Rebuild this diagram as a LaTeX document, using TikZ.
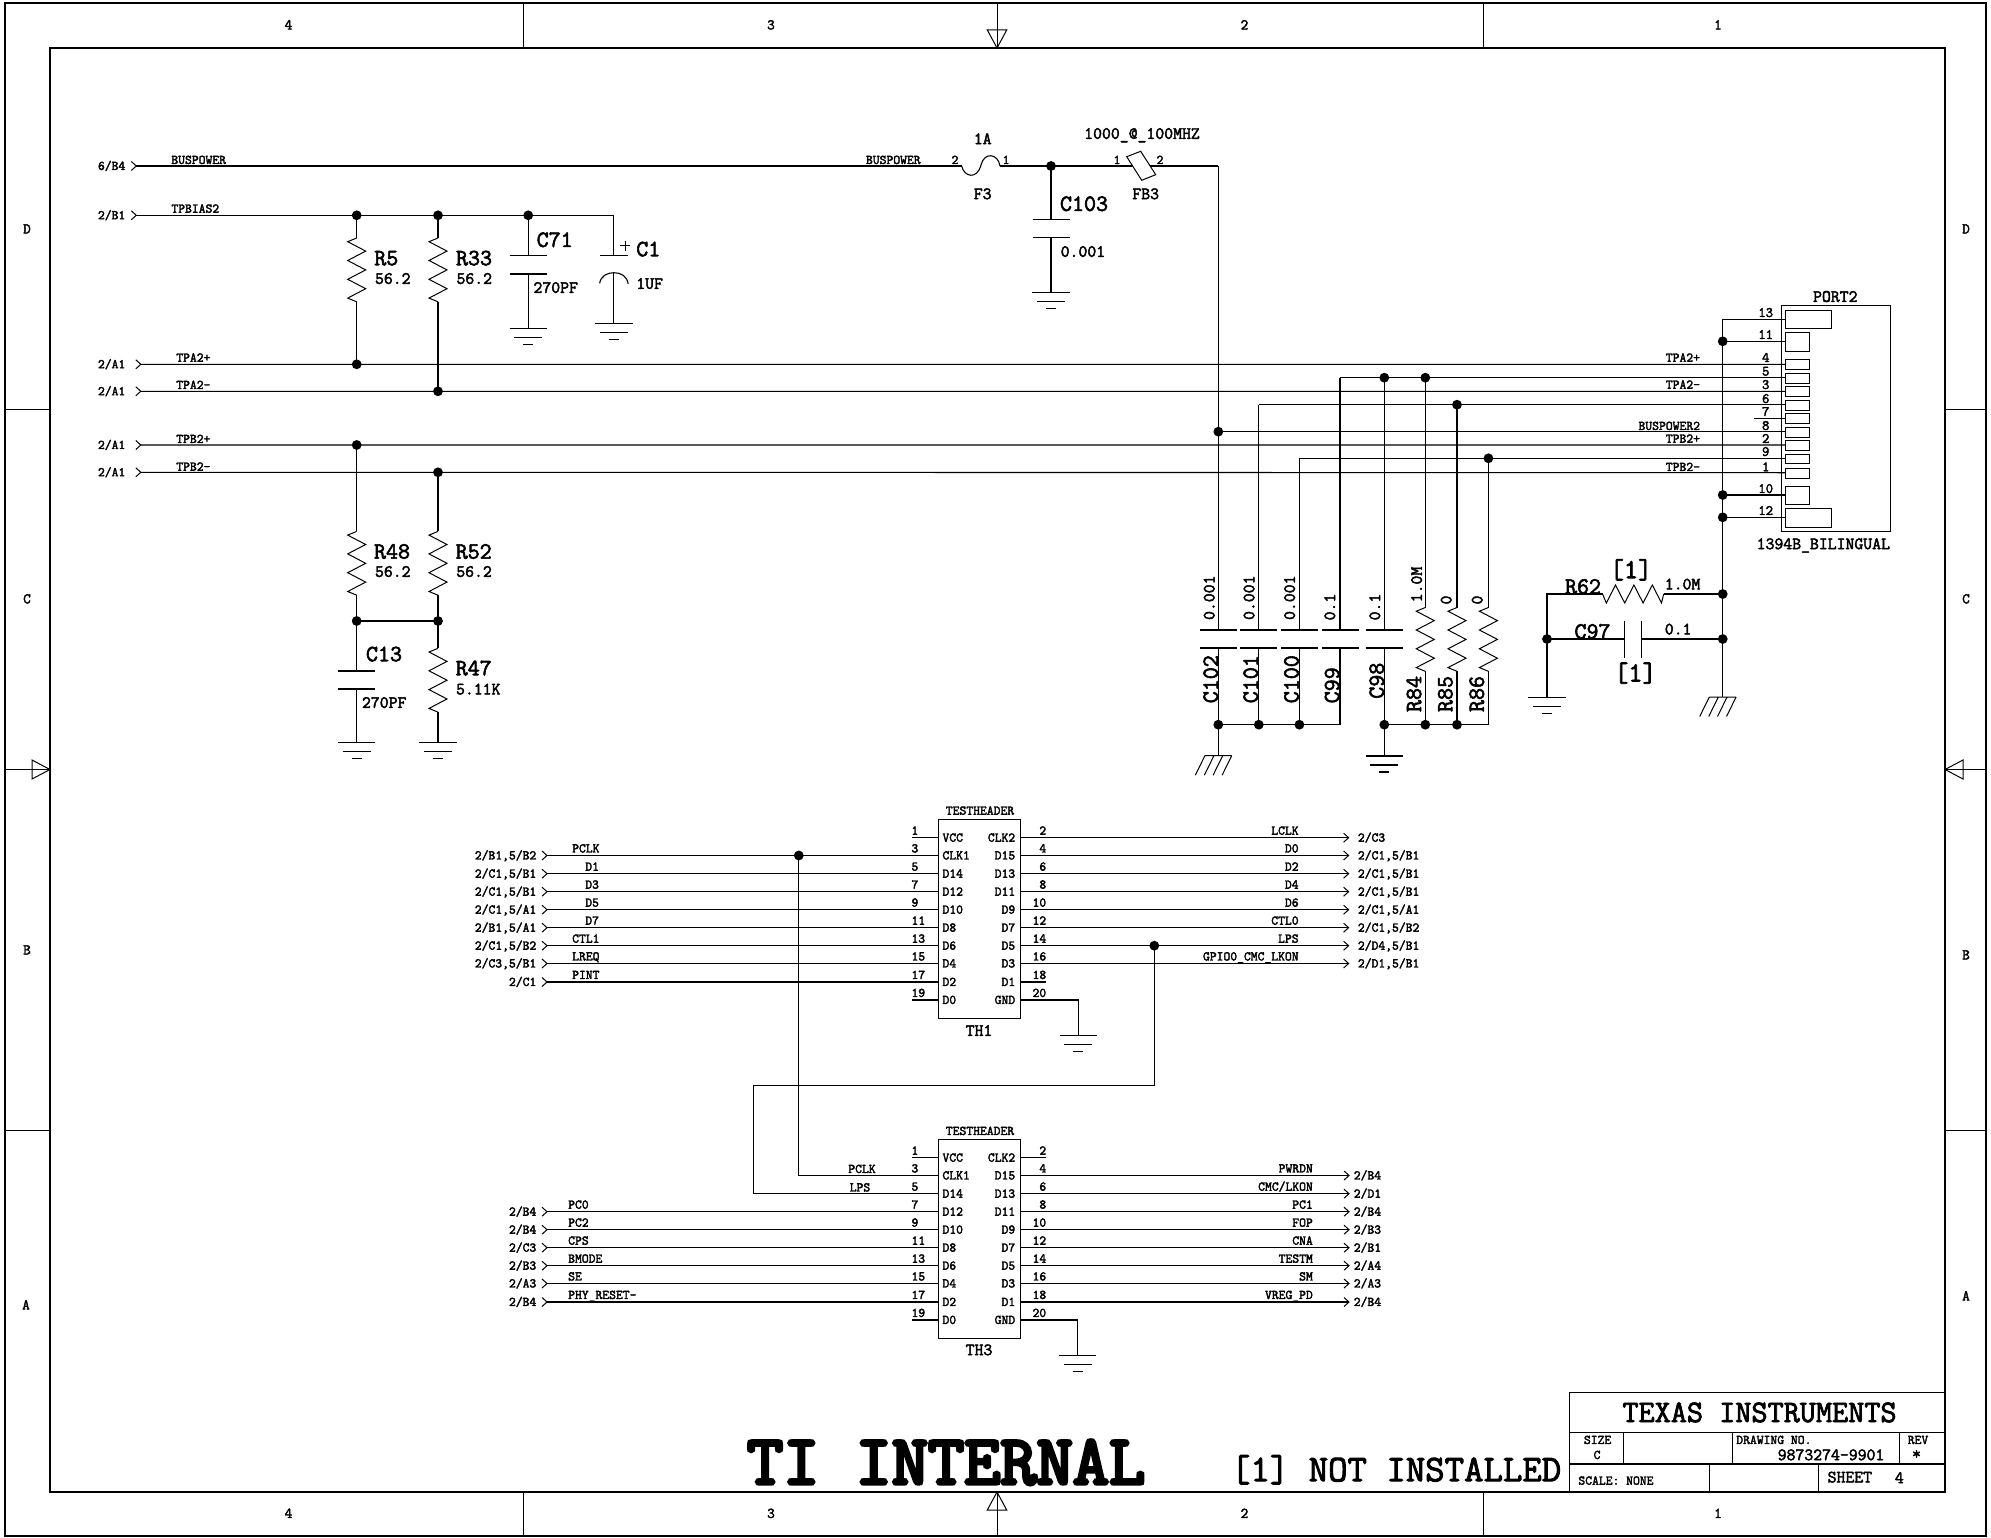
\documentclass[tikz,border=0pt]{standalone}
\usepackage{fontspec}
\newfontfamily\monof[FakeBold=2.5]{Latin Modern Mono}
\newfontfamily\monofb[FakeBold=5]{Latin Modern Mono}
\tikzset{
  wire/.style={draw=black,line width=1.1pt,line join=miter},
  thin wire/.style={draw=black,line width=1pt},
  fsz/.style={font=\monof\fontsize{\the\dimexpr #1pt*1143/1000\relax}{#1}\selectfont,inner sep=0pt,outer sep=0pt,
     text height=\dimexpr #1pt*68/100\relax,text depth=0pt},
  fszb/.style={fsz=#1,font=\monofb\fontsize{\the\dimexpr #1pt*1143/1000\relax}{#1}\selectfont},
  ts/.style={fsz=11.6},
  tm/.style={fsz=15.1},
  tl/.style={fsz=20.4},
}
\newcounter{tc}
% text: [options]{x}{y}{text}
\newcommand\Tx[4][]{\stepcounter{tc}\node[#1] (txt\arabic{tc}) at (#2,#3) {#4};}
\newcommand\Jn[3]{\coordinate (#1) at (#2,#3);\fill[black] (#1) circle (4.9);}
\newcommand\Gnd[1]{\draw[wire] (#1) ++(-18.6,0) -- ++(37.2,0) (#1) ++(-14,9) -- ++(28,0) (#1) ++(-5,16) -- ++(10,0);}
\newcommand\Hash[1]{\draw[thin wire] (#1) ++(-13.4,0) -- ++(26.8,0)
  (#1) ++(-13.4,0) -- ++(-9.6,19.5) (#1) ++(-4.4,0) -- ++(-9.6,19.5)
  (#1) ++(4.4,0) -- ++(-9.6,19.5) (#1) ++(13.4,0) -- ++(-9.6,19.5);}
\newcommand\VZig[1]{\draw[thin wire,line join=miter] (#1) -- ++(-9,3.7) -- ++(18,9.4) -- ++(-18,9.4) -- ++(18,9.4) -- ++(-18,9.4) -- ++(18,9.4) -- ++(-18,9.4) -- ++(9,3.7);}
\newcommand\VPlates[3]{\draw[wire] (#1,#2) ++(-18.5,0) -- ++(37,0) (#1,#3) ++(-18.5,0) -- ++(37,0);}
\newcommand\Chev[1]{\draw[thin wire] (#1) ++(-5,-4.5) -- (#1) -- ++(-5,4.5);}
% header pins
\newcommand\HL[4]{\coordinate (#1l#3) at (938.4,#2);\coordinate (#1ls#3) at (911.5,#2);
  \draw[wire] (#1l#3) -- (#1ls#3);
  \Tx[ts,anchor=west]{911.5}{#2-7}{#3}\Tx[ts,anchor=west]{942.5}{#2}{#4}}
\newcommand\HR[4]{\coordinate (#1r#3) at (1020.5,#2);\coordinate (#1rs#3) at (1046.2,#2);
  \draw[wire] (#1r#3) -- (#1rs#3);
  \Tx[ts,anchor=east]{1046.2}{#2-7}{#3}\Tx[ts,anchor=east]{1015.2}{#2}{#4}}
% input net: pin coordinate, y, refdes, net x, net
\newcommand\NL[5]{\coordinate (tip#1) at (547,#2);\Chev{tip#1}\draw[wire] (tip#1) -- (#1);
  \Tx[ts,anchor=east]{536.3}{#2}{#3}\Tx[ts,anchor=west]{#4}{#2-7}{#5}}
% output net: pin coordinate, y, tip x, net right end, ref x, net, ref
\newcommand\NR[7]{\coordinate (tip#1) at (#3,#2);\Chev{tip#1}\draw[wire] (#1) -- (tip#1);
  \Tx[ts,anchor=east]{#4}{#2-7}{#6}\Tx[ts,anchor=west]{#5}{#2}{#7}}
% port pin: num, ytop, ybot, ywire, ytext, xright
\newcommand\PP[6]{\draw[thin wire] (1785.7,#2) rectangle (#6,#3);\coordinate (p#1) at (1785.7,#4);
  \Tx[ts,fsz=12.5]{1765.7}{#5}{#1}}
\begin{document}
\begin{tikzpicture}[x=1pt,y=-1pt]
\useasboundingbox (0,0) rectangle (1991,1538);
\fill[white] (0,0) rectangle (1991,1538);
% ---------- sheet frame
\draw[wire] (5,3) rectangle (1986,1536);
\draw[wire] (50,48) rectangle (1945,1492);
\draw[thin wire] (523,3)--(523,48) (1483.5,3)--(1483.5,48) (997,3)--(997,48)
  (523,1492)--(523,1536) (1483.5,1492)--(1483.5,1536) (997,1492)--(997,1536)
  (5,409)--(50,409) (5,1130)--(50,1130) (5,769.5)--(50,769.5)
  (1945,409)--(1986,409) (1945,1130)--(1986,1130) (1945,769.5)--(1986,769.5);
\draw[thin wire] (987.3,30)--(1006.7,30)--(997,48)--cycle;
\draw[thin wire] (987.3,1510)--(1006.7,1510)--(997,1492)--cycle;
\draw[thin wire] (32,760)--(32,779)--(50,769.5)--cycle;
\draw[thin wire] (1963,760)--(1963,779)--(1945,769.5)--cycle;
\Tx[ts,fsz=13]{288.5}{25}{4}\Tx[ts,fsz=13]{771}{25}{3}\Tx[ts,fsz=13]{1244.5}{25}{2}\Tx[ts,fsz=13]{1718}{25}{1}
\Tx[ts,fsz=13]{288.5}{1513.5}{4}\Tx[ts,fsz=13]{771}{1513.5}{3}\Tx[ts,fsz=13]{1244.5}{1513.5}{2}\Tx[ts,fsz=13]{1718}{1513.5}{1}
\Tx[ts,fsz=13]{27}{229}{D}\Tx[ts,fsz=13]{27}{599}{C}\Tx[ts,fsz=13]{27}{950}{B}\Tx[ts,fsz=13]{26}{1305}{A}
\Tx[ts,fsz=13]{1966}{229}{D}\Tx[ts,fsz=13]{1966}{599}{C}\Tx[ts,fsz=13]{1966}{955}{B}\Tx[ts,fsz=13]{1966}{1296}{A}
% ---------- port
\draw[thin wire] (1781.3,305.7) rectangle (1890,531.7);
\Tx[tm]{1835.3}{296.7}{PORT2}
\Tx[tm]{1823.3}{544}{1394B\_BILINGUAL}
\PP{13}{310.3}{328.7}{319.3}{312.7}{1831.7}
\PP{11}{332.3}{351}{341.3}{334.7}{1809.3}
\PP{4}{359.3}{369.3}{364.3}{357.7}{1809.3}
\PP{5}{373.3}{383.3}{377.7}{371.3}{1809.3}
\PP{3}{386.7}{396.7}{391.3}{384.7}{1809.3}
\PP{6}{400.3}{410}{404.7}{398.7}{1809.3}
\PP{7}{413.7}{423.7}{418}{411.7}{1809.3}
\PP{8}{427}{437}{431.7}{425.7}{1809.3}
\PP{2}{440.7}{450.3}{445}{438.7}{1809.3}
\PP{9}{454}{463.7}{458.3}{451.7}{1809.3}
\PP{1}{468.3}{478}{472.7}{467}{1809.3}
\PP{10}{486.3}{504.7}{495}{488.7}{1809.3}
\PP{12}{508.3}{527}{517.3}{510.7}{1831.7}
\Tx[ts,anchor=east]{1700}{357.7}{TPA2+}
\Tx[ts,anchor=east]{1700}{384.7}{TPA2-}
\Tx[ts,anchor=east]{1700}{426}{BUSPOWER2}
\Tx[ts,anchor=east]{1700}{438.7}{TPB2+}
\Tx[ts,anchor=east]{1700}{467}{TPB2-}
\coordinate (p7s) at (1754,418);
\draw[thin wire] (p7s)--(p7);
% chassis rail
\coordinate (railT) at (1722.7,319.3);
\coordinate (railB) at (1722.7,697);
\draw[wire] (p13)--(railT)--(railB);
\Jn{j11}{1722.7}{341.3}\Jn{j10}{1722.7}{495}\Jn{j12}{1722.7}{517.3}
\draw[wire] (j11)--(p11) (j10)--(p10) (j12)--(p12);
\Hash{railB}
% ---------- bus power
\coordinate (bpchev) at (136.3,166);
\Chev{bpchev}
\coordinate (fuseL) at (961.7,166);\coordinate (fuseR) at (1000,166);
\coordinate (fbL) at (1132.7,166);\coordinate (fbR) at (1150,166);
\coordinate (bpcorner) at (1218.3,166);
\draw[wire] (bpchev)--(fuseL);
\draw[wire] (fuseL) .. controls (964,177) and (977,180) .. (981,165) .. controls (984,152) and (998,153) .. (fuseR);
\Jn{jC103}{1051}{166}
\draw[wire] (fuseR)--(jC103)--(fbL) (fbR)--(bpcorner);
\draw[thin wire] (1126.7,156.7)--(1140.7,151.3)--(1155.7,174.7)--(1141.7,180.3)--cycle;
\Tx[ts,anchor=east]{125.3}{166}{6/B4}
\Tx[ts,anchor=west]{171.4}{160}{BUSPOWER}
\Tx[ts,anchor=west]{866}{160}{BUSPOWER}
\Tx[ts]{955}{160}{2}\Tx[ts]{1006}{160}{1}
\Tx[tm]{982.7}{139}{1A}\Tx[tm]{982.7}{194}{F3}
\Tx[tm]{1142}{133.7}{1000\_@\_100MHZ}
\Tx[ts]{1117}{160}{1}\Tx[ts]{1160}{160}{2}
\Tx[tm]{1145.7}{194}{FB3}
\Tx[tl,anchor=west]{1060}{204}{C103}
\Tx[tm,anchor=west]{1060.7}{251.7}{0.001}
\VPlates{1051}{219.7}{237.7}
\coordinate (gC103) at (1051,292.3);
\draw[wire] (jC103)--(1051,219.7) (1051,237.7)--(gC103);
\Gnd{gC103}
% ---------- TP bias
\coordinate (bchev) at (136.3,215.3);\Chev{bchev}
\coordinate (C1top) at (613.9,215.3);
\Jn{jR5}{356.7}{215.3}\Jn{jR33}{438}{215.3}\Jn{jC71}{528.2}{215.3}
\draw[wire] (bchev)--(jR5)--(jR33)--(jC71)--(C1top);
\Tx[ts,anchor=east]{125.3}{215.3}{2/B1}
\Tx[ts,anchor=west]{171.4}{208.7}{TPBIAS2}
% lines TPA/TPB
\coordinate (ca) at (140.8,364.3);\coordinate (cb) at (140.8,391.3);\coordinate (cc) at (140.8,445);\coordinate (cd) at (140.8,472.3);
\Chev{ca}\Chev{cb}\Chev{cc}\Chev{cd}
\Jn{jA}{356.7}{364.3}\Jn{jB}{438}{391.3}\Jn{jC}{356.7}{445}\Jn{jD}{438}{472.3}
\draw[wire] (ca)--(jA)--(p4) (cb)--(jB)--(p3) (cc)--(jC)--(p2) (cd)--(jD)--(p1);
\Tx[ts,anchor=east]{125.3}{364.3}{2/A1}\Tx[ts,anchor=east]{125.3}{391.3}{2/A1}\Tx[ts,anchor=east]{125.3}{445}{2/A1}\Tx[ts,anchor=east]{125.3}{472.3}{2/A1}
\Tx[ts,anchor=west]{176.3}{357.7}{TPA2+}\Tx[ts,anchor=west]{176.3}{385}{TPA2-}\Tx[ts,anchor=west]{176.3}{439}{TPB2+}\Tx[ts,anchor=west]{176.3}{466.7}{TPB2-}
% R5, R33
\coordinate (r5t) at (356.7,238);\coordinate (r5b) at (356.7,301.8);
\coordinate (r33t) at (438,238);\coordinate (r33b) at (438,301.8);
\VZig{r5t}\VZig{r33t}
\draw[wire] (jR5)--(r5t) (r5b)--(jA) (jR33)--(r33t) (r33b)--(jB);
\Tx[tl,anchor=west]{374.3}{258.3}{R5}\Tx[tm,anchor=west]{375}{278.7}{56.2}
\Tx[tl,anchor=west]{456}{258.3}{R33}\Tx[tm,anchor=west]{456.5}{278.7}{56.2}
% C71
\VPlates{528.2}{255.7}{274}
\coordinate (gC71) at (528.2,328.3);
\draw[wire] (jC71)--(528.2,255.7) (528.2,274)--(gC71);
\Gnd{gC71}
\Tx[tl,anchor=west]{536.7}{240}{C71}\Tx[tm,anchor=west]{533.5}{287.7}{270PF}
% C1
\draw[wire] (C1top)--(613.9,255.7) (599.6,255.7)--(628.2,255.7);
\draw[thin wire] (620.3,246)--(630.3,246) (625.3,241)--(625.3,251);
\draw[wire] (599.6,283.3) .. controls (601,276) and (607,272.7) .. (613.9,272.7) .. controls (621,272.7) and (627,276) .. (628.2,284);
\coordinate (gC1) at (613.9,323.3);
\draw[wire] (613.9,272.7)--(gC1);
\Gnd{gC1}
\Tx[tl,anchor=west]{636.3}{249.3}{C1}\Tx[tm,anchor=west]{636.3}{283.7}{1UF}
% R48 R52 R47 C13
\coordinate (r48t) at (356.7,531.4);\coordinate (r48b) at (356.7,595.2);
\coordinate (r52t) at (438,531.4);\coordinate (r52b) at (438,595.2);
\VZig{r48t}\VZig{r52t}
\Jn{j48}{356.7}{621}\Jn{j52}{438}{621}
\draw[wire] (jC)--(r48t) (r48b)--(j48) (jD)--(r52t) (r52b)--(j52) (j48)--(j52);
\Tx[tl,anchor=west]{374}{551.7}{R48}\Tx[tm,anchor=west]{375}{571.7}{56.2}
\Tx[tl,anchor=west]{455.7}{551.7}{R52}\Tx[tm,anchor=west]{456.3}{571.7}{56.2}
\VPlates{356.7}{671}{689}
\coordinate (gC13) at (356.7,742.7);
\draw[wire] (j48)--(356.7,671) (356.7,689)--(gC13);
\Gnd{gC13}
\Tx[tl,anchor=west]{366}{654.3}{C13}\Tx[tm,anchor=west]{362}{702.7}{270PF}
\coordinate (r47t) at (438,648.3);\coordinate (r47b) at (438,712.1);
\coordinate (gR47) at (438,742.7);
\VZig{r47t}
\draw[wire] (j52)--(r47t) (r47b)--(gR47);
\Gnd{gR47}
\Tx[tl,anchor=west]{455.7}{668.3}{R47}\Tx[tm,anchor=west]{456}{689.3}{5.11K}
% ---------- decoupling column
\Jn{jBP}{1218.3}{431.7}
\coordinate (t101) at (1258.8,404.7);\coordinate (t100) at (1299.4,458.3);\coordinate (t99) at (1340,377.7);
\Jn{j98}{1384.3}{377.7}\Jn{j84}{1425.3}{377.7}\Jn{j85}{1457}{404.7}\Jn{j86}{1488.4}{458.3}
\draw[wire] (bpcorner)--(jBP)--(p8);
\draw[wire] (t101)--(j85)--(p6) (t100)--(j86)--(p9) (t99)--(j98)--(j84)--(p5);
\Jn{bC102}{1218.3}{724.7}\Jn{bC101}{1258.8}{724.7}\Jn{bC100}{1299.4}{724.7}
\coordinate (bC99) at (1340,724.7);
\Jn{bC98}{1384.3}{724.7}\Jn{bR84}{1425.3}{724.7}\Jn{bR85}{1457}{724.7}
\coordinate (bR86) at (1488.4,724.7);
\draw[wire] (bC102)--(bC101)--(bC100)--(bC99) (bC98)--(bR84)--(bR85)--(bR86);
\VPlates{1218.3}{630}{648}\VPlates{1258.8}{630}{648}\VPlates{1299.4}{630}{648}\VPlates{1340}{630}{648}\VPlates{1384.3}{630}{648}
\draw[wire] (jBP)--(1218.3,630) (1218.3,648)--(bC102)
  (t101)--(1258.8,630) (1258.8,648)--(bC101)
  (t100)--(1299.4,630) (1299.4,648)--(bC100)
  (t99)--(1340,630) (1340,648)--(bC99)
  (j98)--(1384.3,630) (1384.3,648)--(bC98);
\coordinate (z84) at (1425.3,607.5);\coordinate (z85) at (1457,607.5);\coordinate (z86) at (1488.4,607.5);
\VZig{z84}\VZig{z85}\VZig{z86}
\draw[wire] (j84)--(z84) (1425.3,671.3)--(bR84) (j85)--(z85) (1457,671.3)--(bR85) (j86)--(z86) (1488.4,671.3)--(bR86);
\coordinate (gHash) at (1218.3,755.7);\coordinate (gC98) at (1384.3,756);
\draw[wire] (bC102)--(gHash) (bC98)--(gC98);
\Hash{gHash}\Gnd{gC98}
\Tx[tm,rotate=90]{1209.4}{597.7}{0.001}\Tx[tl,rotate=90]{1211}{679.2}{C102}
\Tx[tm,rotate=90]{1249.2}{597.7}{0.001}\Tx[tl,rotate=90]{1251}{679.2}{C101}
\Tx[tm,rotate=90]{1289.8}{597.7}{0.001}\Tx[tl,rotate=90]{1291.7}{679.2}{C100}
\Tx[tm,rotate=90]{1330}{607}{0.1}\Tx[tl,rotate=90]{1332.3}{685.3}{C99}
\Tx[tm,rotate=90]{1375}{607}{0.1}\Tx[tl,rotate=90]{1377}{680.7}{C98}
\Tx[tm,rotate=90]{1416.8}{584.5}{1.0M}\Tx[tl,rotate=90]{1414.2}{694}{R84}
\Tx[tm,rotate=90]{1446.3}{600}{0}\Tx[tl,rotate=90]{1445.5}{694}{R85}
\Tx[tm,rotate=90]{1477.3}{600}{0}\Tx[tl,rotate=90]{1477}{694}{R86}
% ---------- R62 / C97
\Jn{j62}{1722.7}{594}\Jn{j97r}{1722.7}{639}\Jn{j97l}{1547}{639}
\coordinate (corner62) at (1547,594);\coordinate (zL) at (1602.5,594);\coordinate (zR) at (1663.7,594);
\coordinate (g62) at (1547,697.7);
\draw[wire] (g62)--(j97l)--(corner62)--(zL) (zR)--(j62);
\draw[thin wire] (zL) -- ++(3.8,9) -- ++(9.2,-18) -- ++(9.2,18) -- ++(9.2,-18) -- ++(9.2,18) -- ++(9.2,-18) -- ++(9.2,18) -- (zR);
\draw[wire] (j97l)--(1624.3,639) (1641.5,639)--(j97r) (1624.3,621)--(1624.3,657.7) (1641.5,621)--(1641.5,657.7);
\Gnd{g62}
\Tx[tl,anchor=west]{1565}{586.7}{R62}
\Tx[tm,anchor=west]{1664.8}{584.3}{1.0M}
\Tx[tl,anchor=west]{1574.5}{631.7}{C97}
\Tx[tm,anchor=west]{1664.8}{629.3}{0.1}
\Tx[fsz=24]{1631}{570}{[1]}
\Tx[fsz=24]{1635.4}{673.3}{[1]}
% ---------- TH1
\draw[thin wire] (938.4,819.3) rectangle (1020.5,1018.3);
\Tx[ts]{980}{810.7}{TESTHEADER}\Tx[tm]{979}{1030.7}{TH1}
\HL{a}{837.7}{1}{VCC}\HL{a}{855.5}{3}{CLK1}\HL{a}{873.7}{5}{D14}\HL{a}{891.7}{7}{D12}\HL{a}{909.7}{9}{D10}
\HL{a}{927.7}{11}{D8}\HL{a}{945.7}{13}{D6}\HL{a}{963.5}{15}{D4}\HL{a}{982}{17}{D2}\HL{a}{1000}{19}{D0}
\HR{a}{837.7}{2}{CLK2}\HR{a}{855.5}{4}{D15}\HR{a}{873.7}{6}{D13}\HR{a}{891.7}{8}{D11}\HR{a}{909.7}{10}{D9}
\HR{a}{927.7}{12}{D7}\HR{a}{945.7}{14}{D5}\HR{a}{963.5}{16}{D3}\HR{a}{982}{18}{D1}\HR{a}{1000}{20}{GND}
\NL{al3}{855.5}{2/B1,5/B2}{572.2}{PCLK}
\NL{al5}{873.7}{2/C1,5/B1}{585.3}{D1}
\NL{al7}{891.7}{2/C1,5/B1}{585.3}{D3}
\NL{al9}{909.7}{2/C1,5/A1}{585.3}{D5}
\NL{al11}{927.7}{2/B1,5/A1}{585.3}{D7}
\NL{al13}{945.7}{2/C1,5/B2}{572.2}{CTL1}
\NL{al15}{963.5}{2/C3,5/B1}{572.2}{LREQ}
\NL{al17}{982}{2/C1}{572.2}{PINT}
\NR{ar2}{837.7}{1348.6}{1298.6}{1357.9}{LCLK}{2/C3}
\NR{ar4}{855.5}{1348.6}{1298.6}{1357.9}{D0}{2/C1,5/B1}
\NR{ar6}{873.7}{1348.6}{1298.6}{1357.9}{D2}{2/C1,5/B1}
\NR{ar8}{891.7}{1348.6}{1298.6}{1357.9}{D4}{2/C1,5/B1}
\NR{ar10}{909.7}{1348.6}{1298.6}{1357.9}{D6}{2/C1,5/A1}
\NR{ar12}{927.7}{1348.6}{1298.6}{1357.9}{CTL0}{2/C1,5/B2}
\NR{ar14}{945.7}{1348.6}{1298.6}{1357.9}{LPS}{2/D4,5/B1}
\NR{ar16}{963.5}{1348.6}{1298.6}{1357.9}{GPIO0\_CMC\_LKON}{2/D1,5/B1}
\coordinate (aGc) at (1078.2,1000);\coordinate (aG) at (1078.2,1035.7);
\draw[wire] (ar20)--(aGc)--(aG);\Gnd{aG}
\Jn{jPCLK}{798.8}{855.5}\Jn{jLPS}{1154.3}{945.7}
% ---------- TH3
\draw[thin wire] (938.4,1139.3) rectangle (1020.5,1338.3);
\Tx[ts]{980}{1131}{TESTHEADER}\Tx[tm]{979}{1350}{TH3}
\HL{b}{1157.7}{1}{VCC}\HL{b}{1175.5}{3}{CLK1}\HL{b}{1193.7}{5}{D14}\HL{b}{1211.7}{7}{D12}\HL{b}{1229.7}{9}{D10}
\HL{b}{1247.7}{11}{D8}\HL{b}{1265.7}{13}{D6}\HL{b}{1283.5}{15}{D4}\HL{b}{1302}{17}{D2}\HL{b}{1320}{19}{D0}
\HR{b}{1157.7}{2}{CLK2}\HR{b}{1175.5}{4}{D15}\HR{b}{1193.7}{6}{D13}\HR{b}{1211.7}{8}{D11}\HR{b}{1229.7}{10}{D9}
\HR{b}{1247.7}{12}{D7}\HR{b}{1265.7}{14}{D5}\HR{b}{1283.5}{16}{D3}\HR{b}{1302}{18}{D1}\HR{b}{1320}{20}{GND}
\coordinate (cP) at (798.8,1175.5);\coordinate (cL1) at (1154.3,1085.8);\coordinate (cL2) at (753.7,1085.8);\coordinate (cL3) at (753.7,1193.7);
\draw[wire] (jPCLK)--(cP)--(bl3);
\draw[wire] (jLPS)--(cL1)--(cL2)--(cL3)--(bl5);
\Tx[ts]{862}{1169}{PCLK}\Tx[ts]{860}{1187.5}{LPS}
\NL{bl7}{1211.7}{2/B4}{568.2}{PC0}
\NL{bl9}{1229.7}{2/B4}{568.2}{PC2}
\NL{bl11}{1247.7}{2/C3}{568.2}{CPS}
\NL{bl13}{1265.7}{2/B3}{568.2}{BMODE}
\NL{bl15}{1283.5}{2/A3}{568.2}{SE}
\NL{bl17}{1302}{2/B4}{568.2}{PHY\_RESET-}
\NR{br4}{1175.5}{1349}{1312.8}{1353.8}{PWRDN}{2/B4}
\NR{br6}{1193.7}{1349}{1312.8}{1353.8}{CMC/LKON}{2/D1}
\NR{br8}{1211.7}{1349}{1312.8}{1353.8}{PC1}{2/B4}
\NR{br10}{1229.7}{1349}{1312.8}{1353.8}{FOP}{2/B3}
\NR{br12}{1247.7}{1349}{1312.8}{1353.8}{CNA}{2/B1}
\NR{br14}{1265.7}{1349}{1312.8}{1353.8}{TESTM}{2/A4}
\NR{br16}{1283.5}{1349}{1312.8}{1353.8}{SM}{2/A3}
\NR{br18}{1302}{1349}{1312.8}{1353.8}{VREG\_PD}{2/B4}
\coordinate (bGc) at (1077.7,1320);\coordinate (bG) at (1077.7,1355.7);
\draw[wire] (br20)--(bGc)--(bG);\Gnd{bG}
% ---------- title block
\draw[wire] (1569.3,1392.3) -- (1944.7,1392.3) (1569.3,1392.3) -- (1569.3,1492)
  (1569.3,1432.3) -- (1944.7,1432.3) (1569.3,1464) -- (1944.7,1464);
\draw[thin wire] (1623.8,1432.3)--(1623.8,1464) (1732.3,1432.3)--(1732.3,1464) (1899.8,1432.3)--(1899.8,1464)
  (1709.6,1464)--(1709.6,1492) (1818,1464)--(1818,1492);
\Tx[fsz=27.4]{1759.5}{1412.7}{TEXAS INSTRUMENTS}
\Tx[ts]{1597.6}{1440}{SIZE}\Tx[ts]{1597}{1455}{C}
\Tx[ts,anchor=west]{1736.3}{1440}{DRAWING NO.}
\Tx[tm,anchor=west]{1777.7}{1455}{9873274-9901}
\Tx[ts]{1918}{1440}{REV}\Tx[tm]{1916.5}{1454}{*}
\Tx[ts,anchor=west]{1578.4}{1480.7}{SCALE: NONE}
\Tx[tm,anchor=west]{1827.6}{1477.3}{SHEET}\Tx[tm]{1899.3}{1478}{4}
\Tx[fsz=33,anchor=west]{1231}{1470}{[1] NOT INSTALLED}
\Tx[fszb=61.5,anchor=west]{747}{1463}{TI INTERNAL}
\end{tikzpicture}
\end{document}
